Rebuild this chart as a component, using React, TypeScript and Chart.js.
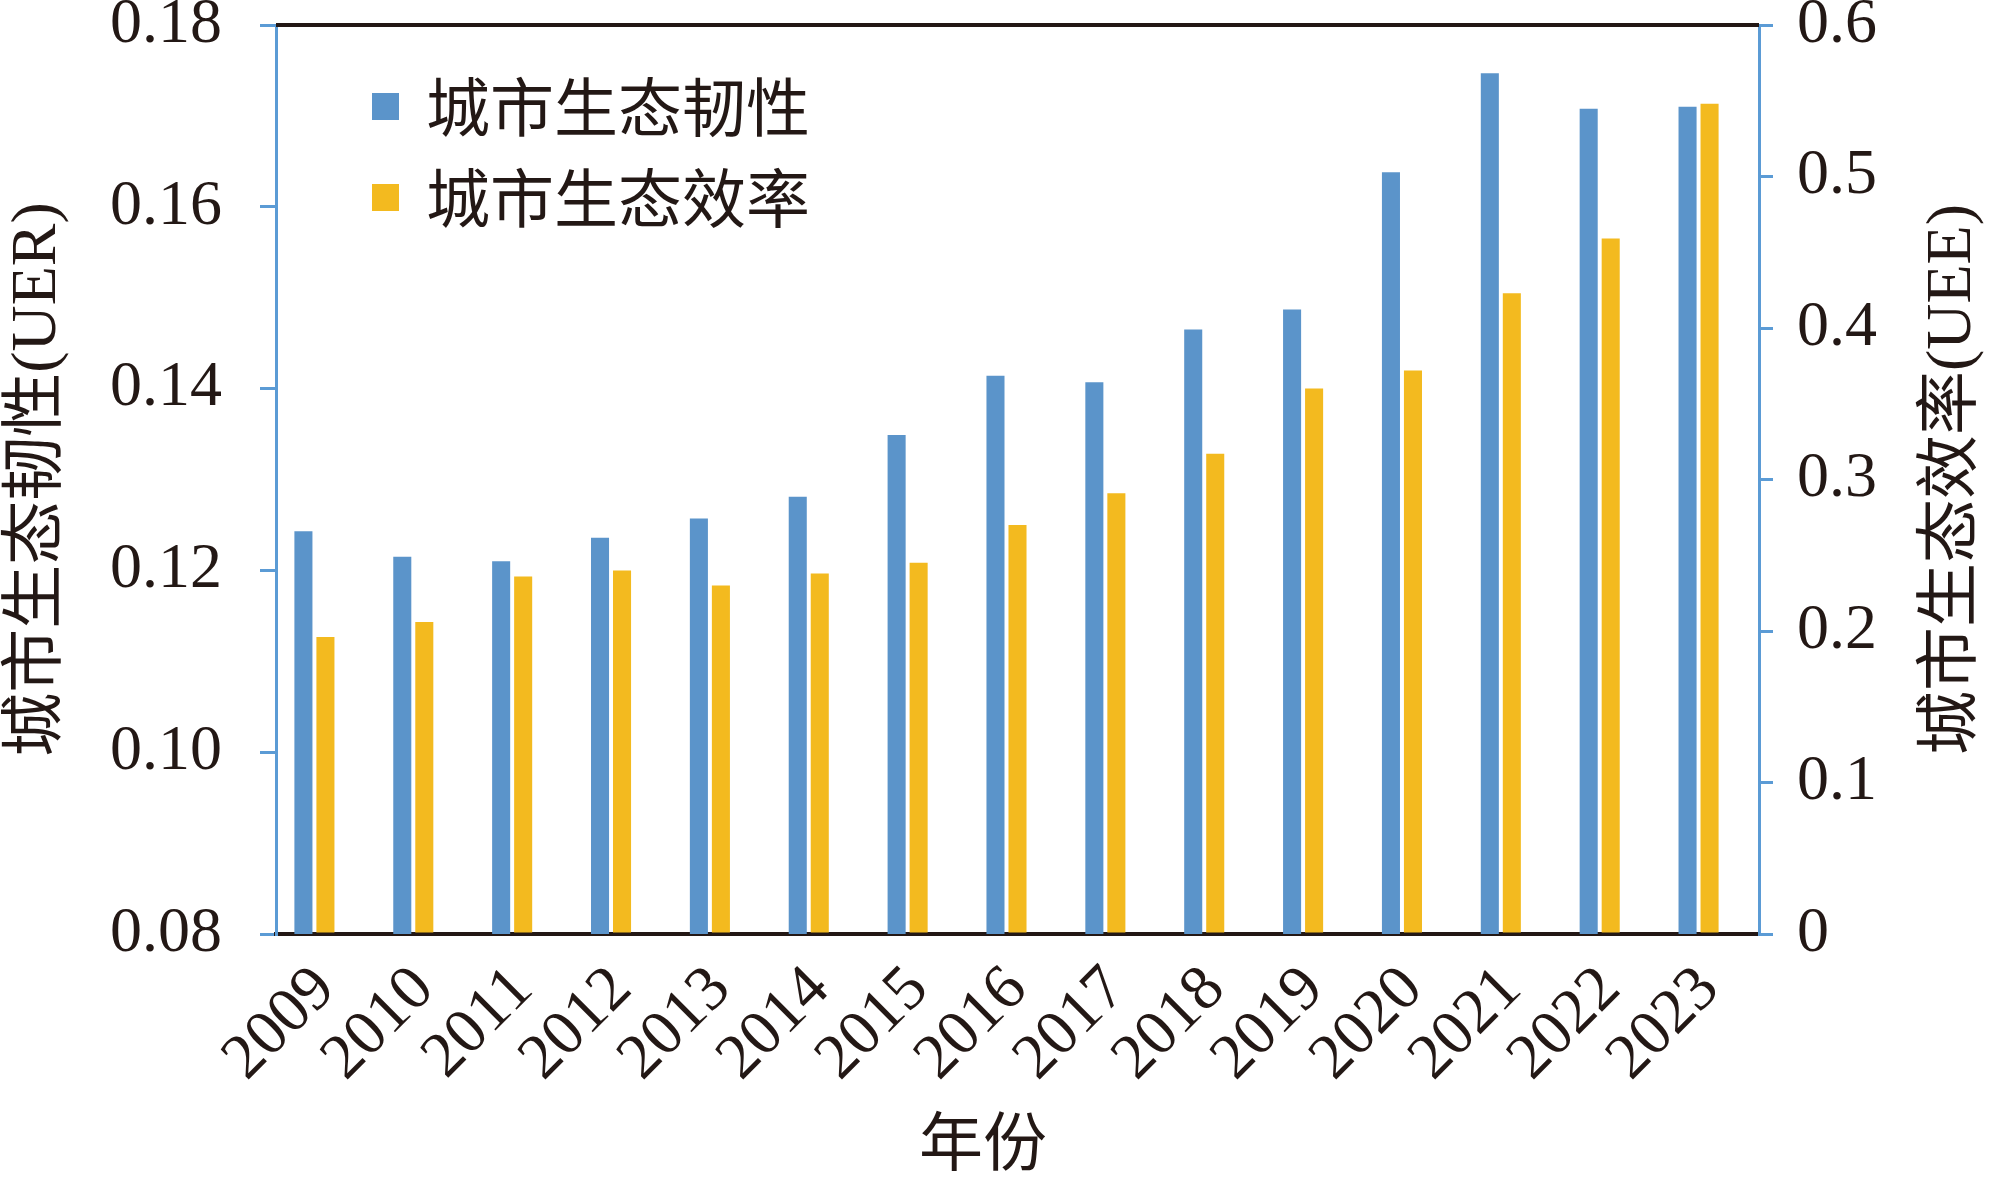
import React, { useEffect, useRef } from "react";
import { Chart, registerables } from "chart.js";

Chart.register(...registerables);

const years = ["2009", "2010", "2011", "2012", "2013", "2014", "2015", "2016", "2017", "2018", "2019", "2020", "2021", "2022", "2023"];
const resilience = [0.1243, 0.1215, 0.121, 0.1236, 0.1257, 0.1281, 0.1349, 0.1414, 0.1407, 0.1465, 0.1487, 0.1638, 0.1747, 0.1708, 0.171];
const efficiency = [0.196, 0.206, 0.236, 0.24, 0.23, 0.238, 0.245, 0.27, 0.291, 0.317, 0.36, 0.372, 0.423, 0.459, 0.548];
const emptySlot = [null, null, null, null, null, null, null, null, null, null, null, null, null, null, null];

const seriesNames = ["城市生态韧性", "城市生态效率"];
const leftTitle = "城市生态韧性(UER)";
const rightTitle = "城市生态效率(UEE)";
const xTitle = "年份";

const BLUE = "#5B94CA";
const YELLOW = "#F3BA1F";
const AXIS_BLUE = "#5B9BD5";
const TEXT = "#231815";
const FONT = '"Liberation Serif", "Times New Roman", "Noto Sans CJK SC", serif';
const W = 1989;
const H = 1178;

const overlay = {
  id: "overlay",
  afterDraw(chart: any) {
    const { ctx, chartArea: ca } = chart;
    ctx.save();
    // top frame line
    ctx.strokeStyle = TEXT;
    ctx.lineWidth = 4;
    ctx.beginPath();
    ctx.moveTo(ca.left, ca.top);
    ctx.lineTo(ca.right, ca.top);
    ctx.stroke();

    // legend
    const colors = [BLUE, YELLOW];
    const rows = [106, 197];
    ctx.font = `64px ${FONT}`;
    ctx.textBaseline = "middle";
    ctx.textAlign = "left";
    seriesNames.forEach((name, i) => {
      ctx.fillStyle = colors[i];
      ctx.fillRect(372, rows[i] - 13, 27, 27);
      ctx.fillStyle = TEXT;
      ctx.fillText(name, 426, rows[i] + 8);
    });

    // axis titles
    const midY = (ca.top + ca.bottom) / 2;
    ctx.fillStyle = TEXT;
    ctx.textAlign = "center";
    ctx.textBaseline = "middle";
    ctx.save();
    ctx.translate(38, midY);
    ctx.rotate(-Math.PI / 2);
    ctx.fillText(leftTitle, 0, 0);
    ctx.restore();
    ctx.save();
    ctx.translate(1953, midY);
    ctx.rotate(-Math.PI / 2);
    ctx.fillText(rightTitle, 0, 0);
    ctx.restore();
    ctx.fillText(xTitle, 983, 1148);
    ctx.restore();
  },
};

export default function App() {
  const ref = useRef<HTMLCanvasElement>(null);
  useEffect(() => {
    if (!ref.current) return;
    const chart = new Chart(ref.current, {
      type: "bar",
      data: {
        labels: years,
        datasets: [
          { label: seriesNames[0], data: resilience, backgroundColor: BLUE, yAxisID: "y", categoryPercentage: 0.668, barPercentage: 0.82 },
          { label: seriesNames[1], data: efficiency, backgroundColor: YELLOW, yAxisID: "y1", categoryPercentage: 0.668, barPercentage: 0.82 },
          { label: "", data: emptySlot, backgroundColor: "transparent", yAxisID: "y", categoryPercentage: 0.668, barPercentage: 0.82 },
        ],
      },
      options: {
        animation: false,
        responsive: false,
        devicePixelRatio: 1,
        layout: { padding: { top: 25, left: 0, right: 0, bottom: 0 } },
        plugins: { legend: { display: false }, tooltip: { enabled: false } },
        scales: {
          x: {
            offset: true,
            grid: { display: false },
            border: { display: true, color: TEXT, width: 4 },
            ticks: {
              color: TEXT,
              font: { family: FONT, size: 64 },
              minRotation: 45,
              maxRotation: 45,
              padding: 10,
              autoSkip: false,
            },
            afterFit: (s: any) => {
              s.height = 244;
            },
          },
          y: {
            position: "left",
            min: 0.08,
            max: 0.18,
            grid: { display: true, drawOnChartArea: false, drawTicks: true, tickLength: 16, color: AXIS_BLUE, lineWidth: 3 },
            border: { display: true, color: AXIS_BLUE, width: 3 },
            ticks: {
              stepSize: 0.02,
              color: TEXT,
              font: { family: FONT, size: 64 },
              padding: 38,
              callback: (v: any) => Number(v).toFixed(2),
            },
            afterFit: (s: any) => {
              s.width = 276;
              s.paddingTop = 0;
              s.paddingBottom = 0;
            },
          },
          y1: {
            position: "right",
            min: 0,
            max: 0.6,
            grid: { display: true, drawOnChartArea: false, drawTicks: true, tickLength: 14, color: AXIS_BLUE, lineWidth: 3 },
            border: { display: true, color: AXIS_BLUE, width: 3 },
            ticks: {
              stepSize: 0.1,
              color: TEXT,
              font: { family: FONT, size: 64 },
              padding: 24,
              callback: (v: any) => (Number(v) === 0 ? "0" : Number(v).toFixed(1)),
            },
            afterFit: (s: any) => {
              s.width = 230;
              s.paddingTop = 0;
              s.paddingBottom = 0;
            },
          },
        },
      },
      plugins: [overlay],
    });
    return () => chart.destroy();
  }, []);
  return (
    <div style={{ position: "fixed", left: 0, top: 0, width: W, height: H, background: "#fff" }}>
      <canvas ref={ref} width={W} height={H} style={{ width: W, height: H, display: "block" }} />
    </div>
  );
}
